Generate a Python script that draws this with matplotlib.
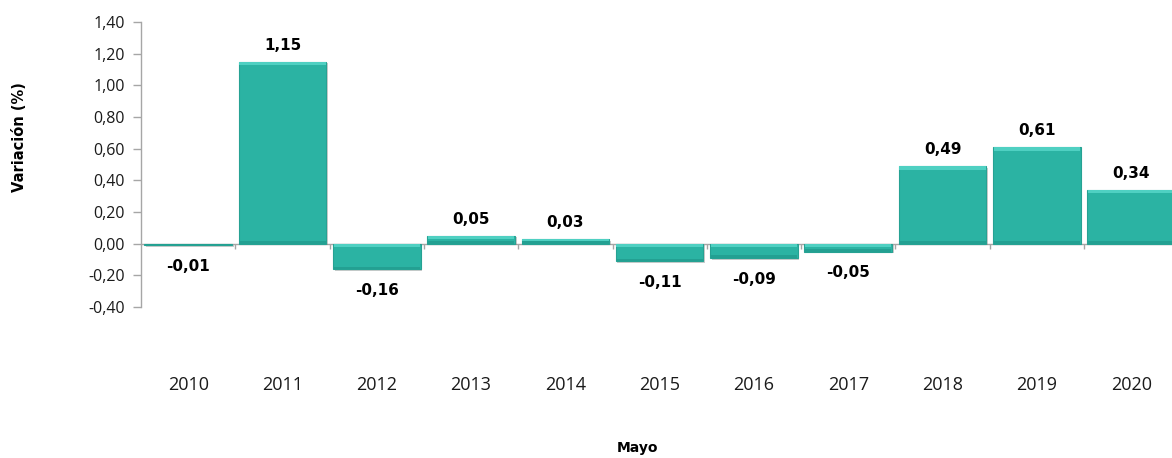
import matplotlib
matplotlib.use("Agg")
import matplotlib.pyplot as plt
import matplotlib.patheffects as pe
import numpy as np

years = ["2010", "2011", "2012", "2013", "2014", "2015", "2016", "2017", "2018", "2019", "2020"]
values = [-0.01, 1.15, -0.16, 0.05, 0.03, -0.11, -0.09, -0.05, 0.49, 0.61, 0.34]
yticks = [-0.40, -0.20, 0.00, 0.20, 0.40, 0.60, 0.80, 1.00, 1.20, 1.40]

W, H = 1172, 458
fig = plt.figure(figsize=(W / 100, H / 100), dpi=100)
left_px, right_px = 141, 141 + 11 * 94.3
top_px, bot_px = 22, 307
ax = fig.add_axes([left_px / W, 1 - bot_px / H, (right_px - left_px) / W, (bot_px - top_px) / H])

ax.set_xlim(-0.5, len(years) - 0.5)
ax.set_ylim(-0.40, 1.40)
px_per_unit = (bot_px - top_px) / 1.80

x = np.arange(len(years))
vals = np.array(values)
face = "#2BB3A3"
bw = 0.93
shadow = [pe.SimplePatchShadow(offset=(1.2, -1.2), shadow_rgbFace="#808080", alpha=0.4), pe.Normal()]
bars = ax.bar(x, vals, width=bw, color=face, edgecolor="#26A293", linewidth=0.8, zorder=3)
for b in bars:
    b.set_path_effects(shadow)

# bevel: lighter band along top edge, slightly darker band along bottom edge
band = 3.5 / px_per_unit
tops = np.maximum(vals, 0)
bots = np.minimum(vals, 0)
h = tops - bots
bt = np.minimum(band, h / 2)
bb = np.minimum(2.5 / px_per_unit, h / 2)
ax.bar(x, bt, bottom=tops - bt, width=bw * 0.985, color="#4FD0C2", linewidth=0, zorder=4)
ax.bar(x, bb, bottom=bots, width=bw * 0.985, color="#23A092", linewidth=0, zorder=4)

ax.set_yticks(yticks)
ax.set_yticklabels([f"{t:.2f}".replace(".", ",") for t in yticks],
                   fontfamily="Open Sans", fontsize=11.5, color="#1A1A1A")
ax.tick_params(axis="y", direction="out", length=5.5, color="#A6A6A6", width=1, pad=6)
ax.set_xticks(x)
ax.set_xticklabels(years, fontfamily="Open Sans", fontsize=13, color="#1A1A1A")
ax.tick_params(axis="x", length=0, pad=50)

for s in ["top", "right", "bottom"]:
    ax.spines[s].set_visible(False)
ax.spines["left"].set_color("#A6A6A6")
ax.spines["left"].set_linewidth(1)

ax.axhline(0, color="#A6A6A6", lw=1, zorder=2)
bounds = np.arange(len(years)) + 0.5
ax.vlines(bounds, -5 / px_per_unit, 0, color="#A6A6A6", lw=1, zorder=2)

for xi, v in zip(x, values):
    lab = f"{v:.2f}".replace(".", ",")
    if v >= 0:
        ax.annotate(lab, (xi, v), xytext=(0, 8.5), textcoords="offset points",
                    ha="center", va="baseline", fontsize=11, fontweight="bold",
                    fontfamily="DejaVu Sans", color="black")
    else:
        ax.annotate(lab, (xi, v), xytext=(0, -10), textcoords="offset points",
                    ha="center", va="top", fontsize=11, fontweight="bold",
                    fontfamily="DejaVu Sans", color="black")

fig.text(20 / W, 1 - 137 / H, "Variación (%)", rotation=90, ha="center", va="center",
         fontsize=10.5, fontweight="bold", fontfamily="DejaVu Sans")
fig.text(637 / W, 1 - 448 / H, "Mayo", ha="center", va="center",
         fontsize=10, fontweight="bold", fontfamily="DejaVu Sans")

fig.savefig("out.png", dpi=100)
